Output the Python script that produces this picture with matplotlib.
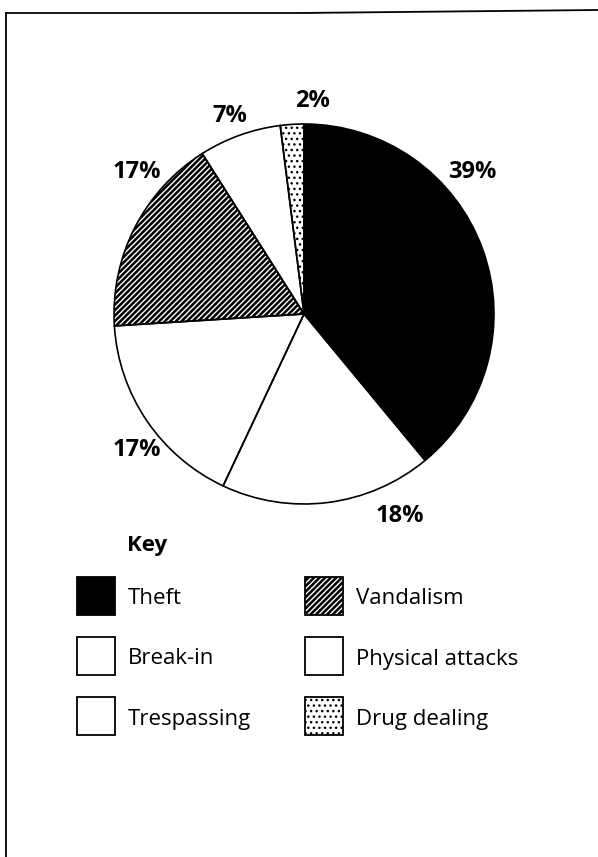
import matplotlib
matplotlib.use("Agg")
import matplotlib.pyplot as plt
from matplotlib.patches import Rectangle

plt.rcParams['font.family'] = ['Open Sans', 'DejaVu Sans']
plt.rcParams['hatch.linewidth'] = 1.0

# data
categories = ["Theft", "Break-in", "Trespassing", "Vandalism", "Physical attacks", "Drug dealing"]
shares = [39, 18, 17, 17, 7, 2]
pct_labels = ["39%", "18%", "17%", "17%", "7%", "2%"]

# styles (one per slice)
faces = ["black", "white", "white", "black", "white", "white"]
hatches = [None, None, None, "//////", None, "..."]
hatch_cols = ["black", "black", "black", "white", "black", "black"]

# label positions in pixels (hand placed like the original)
label_pos = [(472, 172), (400, 516), (137, 450), (137, 172), (230, 116), (312, 101)]

W, H = 598, 857
fig = plt.figure(figsize=(W / 100, H / 100), dpi=100)
ax = fig.add_axes([0, 0, 1, 1])

cx, cy, r = 304, 314, 190

# fills with hatching (hatch colour comes from edgecolor)
wedges, _ = ax.pie(shares, center=(cx, cy), radius=r, startangle=-90,
                   counterclock=True, frame=True,
                   wedgeprops=dict(linewidth=0))
for w, fc, h, hc in zip(wedges, faces, hatches, hatch_cols):
    w.set_facecolor(fc)
    w.set_edgecolor(hc)
    if h:
        w.set_hatch(h)

# outlines on top
ax.pie(shares, center=(cx, cy), radius=r, startangle=-90, counterclock=True,
       frame=True, wedgeprops=dict(facecolor="none", edgecolor="black", linewidth=1.2))

for txt, (x, y) in zip(pct_labels, label_pos):
    ax.text(x, y, txt, ha="center", va="center", fontsize=17, fontweight="bold")

# key
ax.text(127, 545, "Key", ha="left", va="center", fontsize=16, fontweight="bold")
box = 38
col_x = [77, 305]
row_y = [577, 637, 697]
for i, (name, fc, h, hc) in enumerate(zip(categories, faces, hatches, hatch_cols)):
    # left column Theft, Break-in, Trespassing; right column the rest
    col = i // 3
    row = i % 3
    bx, by = col_x[col], row_y[row]
    ax.add_patch(Rectangle((bx, by), box, box, facecolor=fc, edgecolor=hc,
                           hatch=h, linewidth=0))
    ax.add_patch(Rectangle((bx, by), box, box, facecolor="none",
                           edgecolor="black", linewidth=1.3))
    ax.text(bx + box + 13, by + box / 2 + 3, name, ha="left", va="center",
            fontsize=16)

# page frame (left and top edges of the scanned box)
ax.plot([6, 6], [H, 13], color="black", lw=1.3)
ax.plot([6, 300, W], [13, 13, 10], color="black", lw=1.3)

ax.set_xlim(0, W)
ax.set_ylim(H, 0)
ax.set_aspect("equal")
ax.axis("off")

fig.savefig("out.png", dpi=100)
